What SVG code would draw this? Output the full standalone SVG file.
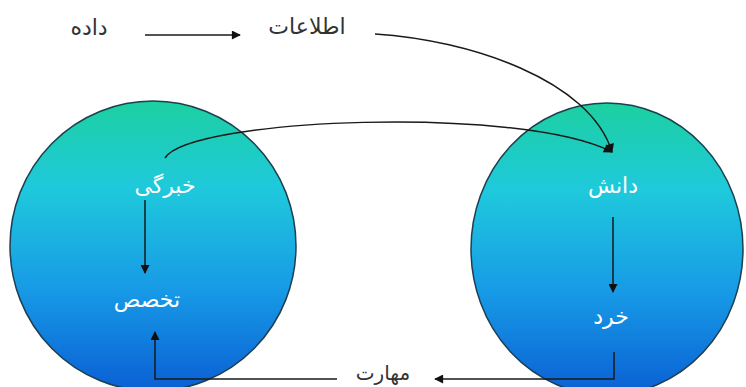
<svg xmlns="http://www.w3.org/2000/svg" width="746" height="387" viewBox="0 0 746 387">
<style>
.ball{stroke:#1d3f4f;stroke-width:1.5;fill:url(#g)}
.lbl{font-family:"DejaVu Sans",sans-serif;font-size:22px;text-anchor:middle}
.in{fill:#ffffff}
.out{fill:#333333}
.c{fill:none;stroke:#1a1a1a;stroke-width:1.5}
</style>
<defs>
<linearGradient id="g" x1="0" y1="0" x2="0" y2="1">
<stop offset="0" stop-color="#1cd0a0"/>
<stop offset="0.3" stop-color="#1fc9dc"/>
<stop offset="0.65" stop-color="#179ae6"/>
<stop offset="1" stop-color="#0a5fd4"/>
</linearGradient>
<marker id="a" viewBox="0 0 10 10" refX="9" refY="5" markerWidth="11" markerHeight="9" markerUnits="userSpaceOnUse" orient="auto">
<path d="M0,0 L10,5 L0,10 z" fill="#111"/>
</marker>
</defs>
<rect width="746" height="387" fill="#ffffff"/>
<g id="left-circle"><ellipse class="ball" cx="153" cy="246" rx="143" ry="145"/></g>
<g id="right-circle"><ellipse class="ball" cx="607" cy="249" rx="136" ry="146"/></g>
<g id="n-dade"><text class="lbl out" x="89" y="35">داده</text></g>
<g id="n-ettelaat"><text class="lbl out" x="307" y="34">اطلاعات</text></g>
<g id="n-khebregi"><text class="lbl in" x="165" y="193">خبرگی</text></g>
<g id="n-takhasos"><text class="lbl in" x="147" y="307">تخصص</text></g>
<g id="n-danesh"><text class="lbl in" x="613" y="193">دانش</text></g>
<g id="n-kherad"><text class="lbl in" x="611" y="324">خرد</text></g>
<g id="n-maharat"><text class="lbl out" x="383" y="380" style="font-size:20px">مهارت</text></g>
<g id="connectors">
<line class="c" x1="145" y1="35" x2="240" y2="35" marker-end="url(#a)"/>
<path class="c" d="M375,34 C470,40 590,80 612,152" marker-end="url(#a)"/>
<path class="c" d="M165,158 C190,118 520,105 612,152" marker-end="url(#a)"/>
<line class="c" x1="145" y1="200" x2="145" y2="273" marker-end="url(#a)"/>
<line class="c" x1="613" y1="217" x2="613" y2="292" marker-end="url(#a)"/>
<path class="c" d="M614,352 L614,379 L435,379" marker-end="url(#a)"/>
<path class="c" d="M337,379 L155,379 L155,332" marker-end="url(#a)"/>
</g>
</svg>
